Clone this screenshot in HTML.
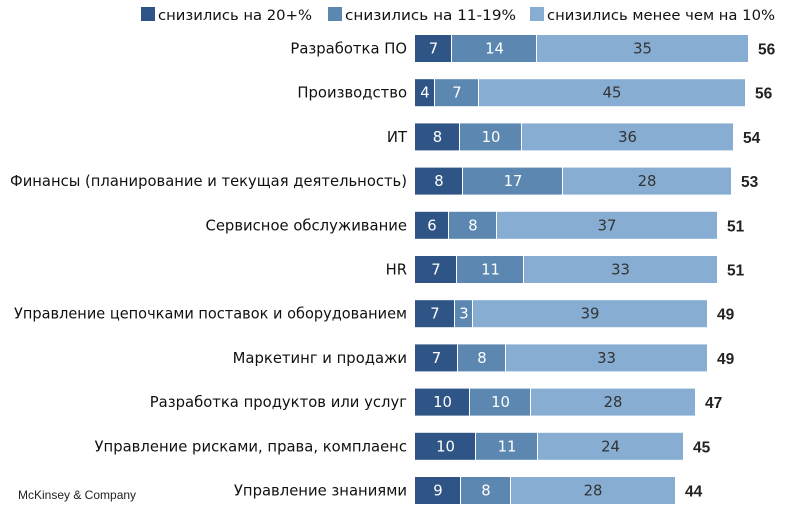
<!DOCTYPE html>
<html><head><meta charset="utf-8"><style>
body{margin:0;background:#fff;}
svg{display:block;font-family:"DejaVu Sans","Liberation Sans",sans-serif;}
</style></head><body>
<svg width="785" height="521" xmlns="http://www.w3.org/2000/svg">
<rect x="141" y="7" width="14" height="14" fill="#2e5585"/>
<text x="158" y="20" font-size="14.5" fill="#111" textLength="154" lengthAdjust="spacingAndGlyphs">снизились на 20+%</text>
<rect x="328" y="7" width="14" height="14" fill="#5b87b1"/>
<text x="345" y="20" font-size="14.5" fill="#111" textLength="171" lengthAdjust="spacingAndGlyphs">снизились на 11-19%</text>
<rect x="530" y="7" width="14" height="14" fill="#87add3"/>
<text x="547" y="20" font-size="14.5" fill="#111" textLength="228" lengthAdjust="spacingAndGlyphs">снизились менее чем на 10%</text>
<g id="rows" font-size="14.8"></g>
<text x="18" y="499" font-size="12" fill="#222" font-family="Liberation Sans, sans-serif">McKinsey &amp; Company</text>
</svg>
<script>
var d=[["Разработка ПО",[7,14,35],56,[415,452,537,748]],
["Производство",[4,7,45],56,[415,435,479,745]],
["ИТ",[8,10,36],54,[415,460,522,733]],
["Финансы (планирование и текущая деятельность)",[8,17,28],53,[415,463,563,731]],
["Сервисное обслуживание",[6,8,37],51,[415,449,497,717]],
["HR",[7,11,33],51,[415,457,524,717]],
["Управление цепочками поставок и оборудованием",[7,3,39],49,[415,455,473,707]],
["Маркетинг и продажи",[7,8,33],49,[415,458,506,707]],
["Разработка продуктов или услуг",[10,10,28],47,[415,470,531,695]],
["Управление рисками, права, комплаенс",[10,11,24],45,[415,476,538,683]],
["Управление знаниями",[9,8,28],44,[415,461,511,675]]];
var cols=["#2e5585","#5b87b1","#87add3"],tc=["#fff","#fff","#333"];
var s="";
d.forEach(function(r,i){
 var y=35+i*44.2,cy=y+13.5;
 var tl=i==3?' textLength="397" lengthAdjust="spacingAndGlyphs"':(i==6?' textLength="393" lengthAdjust="spacingAndGlyphs"':'');
 s+='<text x="407" y="'+(cy+5)+'" text-anchor="end" fill="#111"'+tl+'>'+r[0]+'</text>';
 for(var k=0;k<3;k++){
  var x0=r[3][k],x1=r[3][k+1];
  s+='<rect x="'+x0+'" y="'+y+'" width="'+(x1-x0-(k<2?1:0))+'" height="27" fill="'+cols[k]+'"/>';
  s+='<text x="'+((x0+x1)/2)+'" y="'+(cy+5)+'" text-anchor="middle" fill="'+tc[k]+'">'+r[1][k]+'</text>';
 }
 s+='<text x="'+(r[3][3]+10)+'" y="'+(cy+6)+'" font-weight="bold" fill="#222" font-family="Liberation Sans, sans-serif" font-size="15.5">'+r[2]+'</text>';
});
document.getElementById("rows").innerHTML=s;
</script>
</body></html>
